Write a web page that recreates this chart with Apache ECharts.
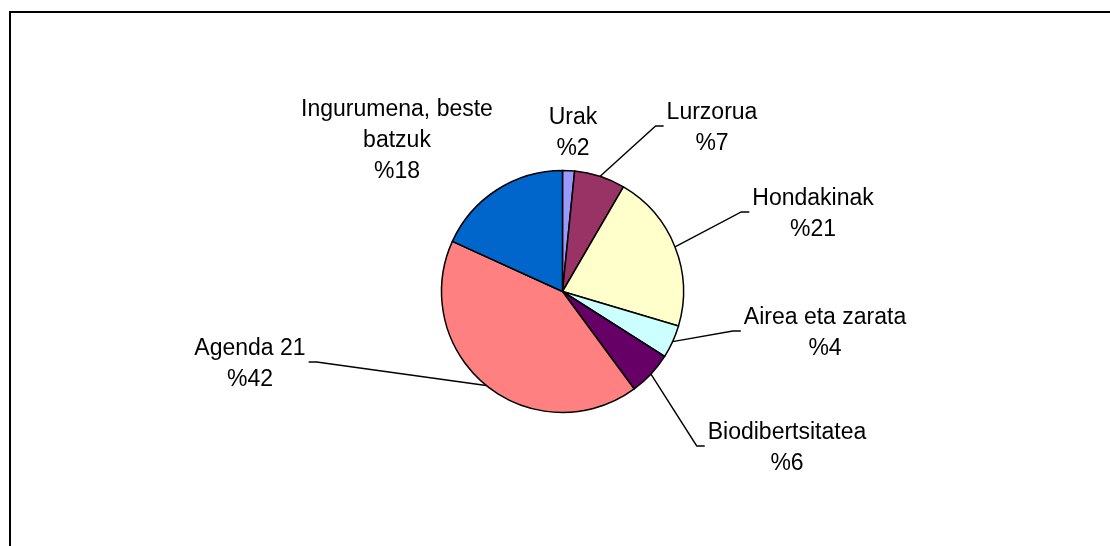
<!DOCTYPE html>
<html><head><meta charset="utf-8">
<script src="https://cdn.jsdelivr.net/npm/echarts@6/dist/echarts.min.js"></script>
<style>html,body{margin:0;padding:0;background:#fff}#c{width:1110px;height:546px}</style>
</head><body><div id="c"></div>
<script>
// ---- data ----
const categories = ['Urak', 'Lurzorua', 'Hondakinak', 'Airea eta zarata', 'Biodibertsitatea', 'Agenda 21', 'Ingurumena, beste batzuk'];
const values = [1.6, 6.8, 21.2, 4.4, 5.9, 41.9, 18.2];
const colors = ['#9999FF', '#993366', '#FFFFCC', '#CCFFFF', '#660066', '#FF8080', '#0066CC'];

// ---- layout ----
const labelCenters = [[573, 133], [712, 128], [813, 214], [825, 333], [787, 448], [250, 364], [397, 141]];
const hasLeader = [false, true, true, true, true, true, false];
const PIE_CENTER = [562.5, 291.5];
const PIE_RADIUS = 121;
const FONT = 'Liberation Sans, Arial, sans-serif';

function wrap(name, max) {
  const words = name.split(' ');
  const lines = [];
  let cur = '';
  words.forEach(w => {
    const t = cur ? cur + ' ' + w : w;
    if (t.length > max && cur) { lines.push(cur); cur = w; } else cur = t;
  });
  if (cur) lines.push(cur);
  return lines.join('\n');
}

const data = categories.map((n, i) => ({
  name: n,
  value: values[i],
  itemStyle: { color: colors[i] },
  labelLine: { show: hasLeader[i] }
}));

const chart = echarts.init(document.getElementById('c'), null, { renderer: 'canvas' });
chart.setOption({
  animation: false,
  backgroundColor: '#fff',
  graphic: [{
    type: 'rect', z: -1,
    shape: { x: 10, y: 12, width: 1400, height: 900 },
    style: { fill: 'none', stroke: '#000', lineWidth: 2 }
  }],
  series: [{
    type: 'pie',
    center: PIE_CENTER,
    radius: PIE_RADIUS,
    startAngle: 90,
    clockwise: true,
    avoidLabelOverlap: false,
    silent: true,
    data: data,
    itemStyle: { borderColor: '#000', borderWidth: 1.5 },
    label: {
      show: true,
      position: 'outside',
      color: '#000',
      fontFamily: FONT,
      fontSize: 23,
      lineHeight: 31,
      align: 'center',
      formatter: p => wrap(p.name, 17) + '\n%' + Math.round(p.percent)
    },
    labelLine: { show: true, length: 20, length2: 10, lineStyle: { color: '#000', width: 1.4 } },
    labelLayout: function (p) {
      const i = p.dataIndex;
      const c = labelCenters[i];
      const res = { x: c[0], y: c[1], align: 'center', verticalAlign: 'middle', hideOverlap: false, moveOverlap: null };
      if (hasLeader[i] && p.labelLinePoints) {
        const w = p.labelRect.width;
        const side = c[0] > PIE_CENTER[0] ? -1 : 1;
        const endX = c[0] + side * (w / 2 + 3);
        const start = p.labelLinePoints[0];
        res.labelLinePoints = [[start[0], start[1]], [endX + side * 8, c[1] - 2], [endX, c[1] - 2]];
      }
      return res;
    }
  }]
});
</script>
</body></html>
